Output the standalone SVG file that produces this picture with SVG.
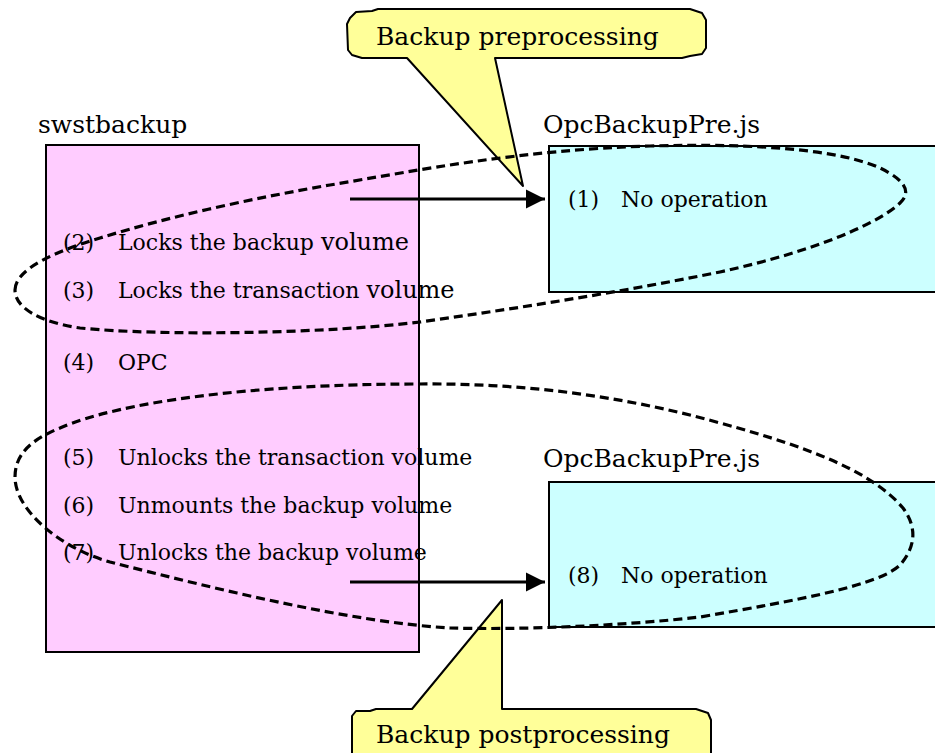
<svg xmlns="http://www.w3.org/2000/svg" width="935" height="753" viewBox="0 0 935 753">
<style>
text{font-family:"DejaVu Serif","Liberation Serif",serif;fill:#000}
.lbl{font-size:25px}
.it{font-size:22px}
.big{font-size:24px}
.box{stroke:#000;stroke-width:2}
.call{fill:#FFFF99;stroke:#000;stroke-width:2;stroke-linejoin:round}
.loop{fill:none;stroke:#000;stroke-width:3.2;stroke-dasharray:9 5}
.arr{stroke:#000;stroke-width:3.2;fill:none}
</style>
<defs>
<marker id="ah" viewBox="0 0 10 10" refX="10" refY="5" markerWidth="6" markerHeight="6" orient="auto" markerUnits="strokeWidth"><path d="M0,0 L10,5 L0,10 Z" fill="#000"/></marker>
</defs>
<rect width="935" height="753" fill="#fff"/>
<g id="swstbackup">
<rect class="box" x="46" y="145" width="373" height="507" fill="#FFCCFF"/>
<text class="lbl" x="38" y="133">swstbackup</text>
<text class="it" x="63" y="250">(2)<tspan x="118">Locks the backup </tspan><tspan class="big">volume</tspan></text>
<text class="it" x="63" y="298">(3)<tspan x="118">Locks the transaction </tspan><tspan class="big">volume</tspan></text>
<text class="it" x="63" y="370">(4)<tspan x="118">OPC</tspan></text>
<text class="it" x="63" y="465">(5)<tspan x="118">Unlocks the transaction volume</tspan></text>
<text class="it" x="63" y="513">(6)<tspan x="118">Unmounts the backup volume</tspan></text>
<text class="it" x="63" y="560">(7)<tspan x="118">Unlocks the backup volume</tspan></text>
</g>
<g id="pre">
<rect class="box" x="549" y="146" width="400" height="146" fill="#CCFFFF"/>
<text class="lbl" x="543" y="133">OpcBackupPre.js</text>
<text class="it" x="568" y="207">(1)<tspan x="621">No operation</tspan></text>
</g>
<g id="post">
<rect class="box" x="549" y="482" width="400" height="145" fill="#CCFFFF"/>
<text class="lbl" x="543" y="467">OpcBackupPre.js</text>
<text class="it" x="568" y="583">(8)<tspan x="621">No operation</tspan></text>
</g>
<g id="callout-pre">
<path class="call" d="M350,18 L356,12 L372,11 L378,9 L690,9 L696,11 L702,13 L706,20 L706,48 L702,54 L690,56 L682,58 L495,58 L523,186 L407,58 L362,58 L352,55 L348,50 L347,24 Z"/>
<text class="lbl" x="376" y="45">Backup preprocessing</text>
</g>
<g id="callout-post">
<path class="call" d="M352,716 L356,711 L370,711 L376,709 L412,709 L502,600 L502,709 L696,709 L702,711 L708,713 L711,720 L711,760 L352,760 Z"/>
<text class="lbl" x="376" y="743">Backup postprocessing</text>
</g>
<g id="connectors">
<line class="arr" x1="350" y1="199" x2="545" y2="199" marker-end="url(#ah)"/>
<line class="arr" x1="350" y1="582" x2="545" y2="582" marker-end="url(#ah)"/>
<path class="loop" d="M15,290 C15,268 60,250 100,238 C170,216 260,197 330,185 C420,170 520,150 650,146 C760,143 840,150 880,168 C905,180 912,192 900,203 C880,222 820,250 720,272 C620,292 520,308 420,322 C320,334 160,336 80,328 C40,322 15,308 15,290 Z"/>
<path class="loop" d="M15,477 C15,455 30,440 60,428 C120,402 250,384 419,384 C520,383 620,395 720,423 C820,450 875,475 903,508 C918,528 915,548 900,565 C880,585 800,600 700,617 C620,626 520,630 450,628 C350,622 220,590 110,562 C60,548 15,510 15,477 Z"/>
</g>
</svg>
